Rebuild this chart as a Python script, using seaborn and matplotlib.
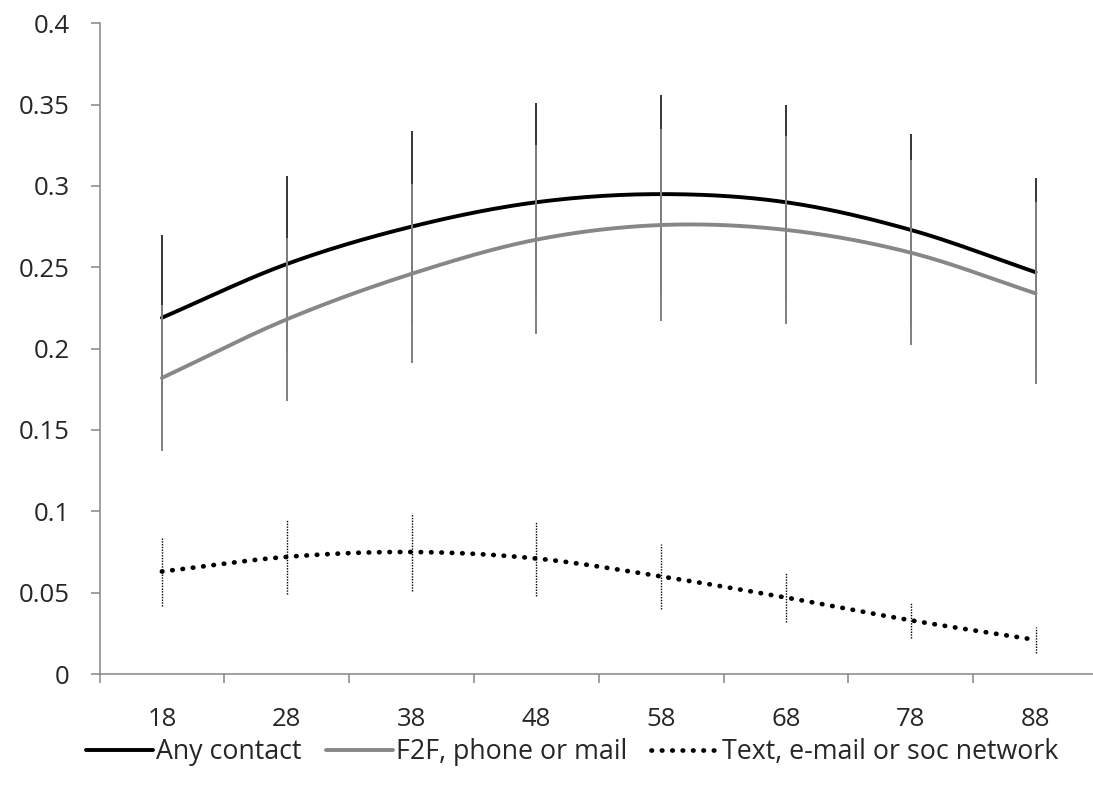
import numpy as np
import pandas as pd
import matplotlib
matplotlib.use('Agg')
import matplotlib.pyplot as plt
import seaborn as sns

ages = [18, 28, 38, 48, 58, 68, 78, 88]

any_contact = [0.219, 0.252, 0.275, 0.290, 0.295, 0.290, 0.273, 0.247]
any_err = [0.051, 0.054, 0.059, 0.061, 0.061, 0.060, 0.059, 0.058]

f2f = [0.182, 0.218, 0.246, 0.267, 0.276, 0.273, 0.259, 0.234]
f2f_err = [0.045, 0.050, 0.055, 0.058, 0.059, 0.058, 0.057, 0.056]

text_net = [0.063, 0.072, 0.075, 0.071, 0.060, 0.047, 0.033, 0.021]
text_err = [0.021, 0.023, 0.024, 0.023, 0.020, 0.015, 0.011, 0.008]

labels = ['Any contact', 'F2F, phone or mail', 'Text, e-mail or soc network']

GREY = '#868686'
FS = 18.5


def smooth(vals, n=30):
    # excel-like smoothed line (bezier through the points)
    p = np.asarray(vals, dtype=float)
    m = len(p)
    ext = np.concatenate([[2 * p[0] - p[1]], p, [2 * p[-1] - p[-2]]])
    xs, ys = [], []
    for i in range(m - 1):
        p0, p1, p2, p3 = ext[i], ext[i + 1], ext[i + 2], ext[i + 3]
        c1 = p1 + (p2 - p0) / 6
        c2 = p2 - (p3 - p1) / 6
        t = np.linspace(0, 1, n, endpoint=False)
        yy = (1 - t) ** 3 * p1 + 3 * (1 - t) ** 2 * t * c1 + 3 * (1 - t) * t ** 2 * c2 + t ** 3 * p2
        xs.extend(i + t)
        ys.extend(yy)
    xs.append(m - 1)
    ys.append(p[-1])
    return pd.DataFrame({'x': xs, 'y': ys})


sns.set_style('white')
plt.rcParams['font.family'] = ['Open Sans', 'DejaVu Sans']

fig = plt.figure(figsize=(10.93, 7.98), dpi=100)
ax = fig.add_axes([99.5 / 1093, 124 / 798, 998.5 / 1093, 650.7 / 798])

pos = np.arange(len(ages))

series = [
    (any_contact, any_err, 'black', 1.1, '-', dict(color='black', lw=2.8, ls='-')),
    (f2f, f2f_err, '#808080', 1.4, '-', dict(color='#878787', lw=2.8, ls='-')),
    (text_net, text_err, 'black', 1.0, (0, (1, 1)), dict(color='black', lw=3.4, ls=(0, (0.1, 2.1)))),
]

z = 2
for (vals, errs, ecol, ew, els, st), lab in zip(series, labels):
    eb = ax.errorbar(pos, vals, yerr=errs, fmt='none', ecolor=ecol,
                     elinewidth=ew, capsize=0, zorder=z)
    eb[2][0].set_linestyle(els)
    sns.lineplot(data=smooth(vals), x='x', y='y', ax=ax, color=st['color'],
                 lw=st['lw'], linestyle=st['ls'], label=lab, zorder=z + 1,
                 solid_capstyle='round', dash_capstyle='round')
    z += 2

ax.set_xlim(-0.5, 7.5)
ax.set_ylim(0, 0.4)
ax.set_xlabel('')
ax.set_ylabel('')

yt = np.arange(0, 0.401, 0.05)
ax.set_yticks(yt)
ax.set_yticklabels([f'{v:g}' for v in np.round(yt, 2)])
ax.set_xticks(pos)
ax.set_xticklabels([str(a) for a in ages])
ax.set_xticks(np.arange(-0.5, 8, 1), minor=True)

for s in ['top', 'right']:
    ax.spines[s].set_visible(False)
for s in ['left', 'bottom']:
    ax.spines[s].set_color(GREY)
    ax.spines[s].set_linewidth(1.1)

ax.tick_params(axis='y', length=6.5, width=1.1, color=GREY, pad=15, labelsize=FS, direction='out', left=True)
ax.tick_params(axis='x', which='major', length=0, pad=24, labelsize=FS)
ax.tick_params(axis='x', which='minor', length=6.5, width=1.1, color=GREY, direction='out', bottom=True)

handles, labs = ax.get_legend_handles_labels()
ax.legend_.remove()
fig.legend(handles, labs, loc='center', bbox_to_anchor=(572 / 1093, 1 - 752 / 798),
           ncol=3, frameon=False, fontsize=19.3, handlelength=2.5,
           handletextpad=0.12, columnspacing=0.9)

fig.savefig('out.png', dpi=100)
